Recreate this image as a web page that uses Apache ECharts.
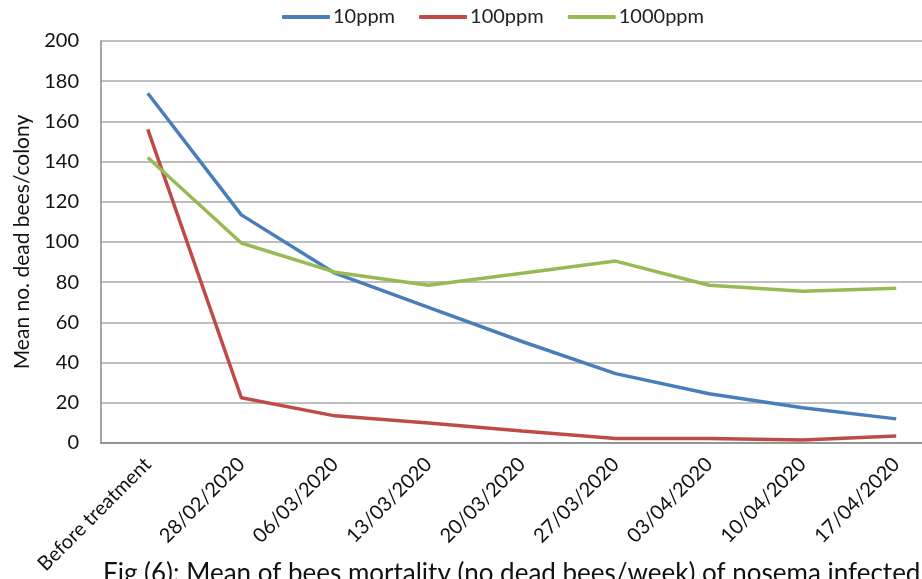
<!DOCTYPE html>
<html>
<head>
<meta charset="UTF-8">
<title>Bees mortality</title>
<style>
  html, body { margin: 0; padding: 0; background: #fff; }
  #chart { width: 922px; height: 579px; }
</style>
</head>
<body>
<div id="chart"></div>
<script src="https://cdn.jsdelivr.net/npm/echarts@6/dist/echarts.min.js"></script>
<script>
var FONT = 'Lato, "Open Sans", sans-serif';

var categories = ['Before treatment', '28/02/2020', '06/03/2020', '13/03/2020', '20/03/2020',
                  '27/03/2020', '03/04/2020', '10/04/2020', '17/04/2020'];
var ppm10   = [174, 113.5, 84.5, 67.5, 50.5, 34.5, 24.5, 17.5, 12];
var ppm100  = [156, 22.5, 13.5, 10, 6, 2.2, 2.2, 1.5, 3.5];
var ppm1000 = [142, 99.5, 85, 78.5, 84.5, 90.5, 78.5, 75.5, 77];
var seriesNames  = ['10ppm', '100ppm', '1000ppm'];
var seriesColors = ['#4a7ebb', '#be4b48', '#98b954'];

var myChart = echarts.init(document.getElementById('chart'));

function line(name, data, color) {
    return {
        name: name,
        type: 'line',
        data: data,
        symbol: 'none',
        lineStyle: { color: color, width: 3.5 },
        itemStyle: { color: color }
    };
}

var option = {
    backgroundColor: '#fff',
    animation: false,
    textStyle: { fontFamily: FONT },
    legend: {
        top: 2,
        left: 277,
        itemWidth: 48,
        itemHeight: 4,
        itemGap: 24,
        icon: 'roundRect',
        textStyle: { fontSize: 20, color: '#222', fontFamily: FONT, padding: [0, 0, 0, -2] },
        data: seriesNames
    },
    grid: { left: 101, top: 41, width: 842, height: 402, outerBoundsMode: 'none' },
    xAxis: {
        type: 'category',
        data: categories,
        boundaryGap: true,
        axisLine: { lineStyle: { color: '#888', width: 1.5 } },
        axisTick: { show: false },
        axisLabel: {
            rotate: 45,
            fontSize: 20,
            color: '#111',
            fontFamily: FONT,
            interval: 0,
            margin: 18
        }
    },
    yAxis: {
        type: 'value',
        min: 0,
        max: 200,
        interval: 20,
        name: 'Mean no. dead bees/colony',
        nameLocation: 'middle',
        nameGap: 68,
        nameTextStyle: { fontSize: 21, color: '#111', fontFamily: FONT },
        axisLine: { show: true, lineStyle: { color: '#888', width: 1.5 } },
        axisTick: { show: false },
        splitLine: { lineStyle: { color: '#aaa', width: 1.5 } },
        axisLabel: { fontSize: 20, color: '#111', fontFamily: FONT, margin: 22 }
    },
    graphic: [{
        type: 'text',
        left: 103,
        top: 561,
        style: {
            text: 'Fig (6): Mean of bees mortality (no dead bees/week) of nosema infected',
            fontSize: 26,
            fontFamily: FONT,
            fill: '#111'
        }
    }],
    series: [
        line(seriesNames[0], ppm10, seriesColors[0]),
        line(seriesNames[1], ppm100, seriesColors[1]),
        line(seriesNames[2], ppm1000, seriesColors[2])
    ]
};
myChart.setOption(option);
</script>
</body>
</html>
